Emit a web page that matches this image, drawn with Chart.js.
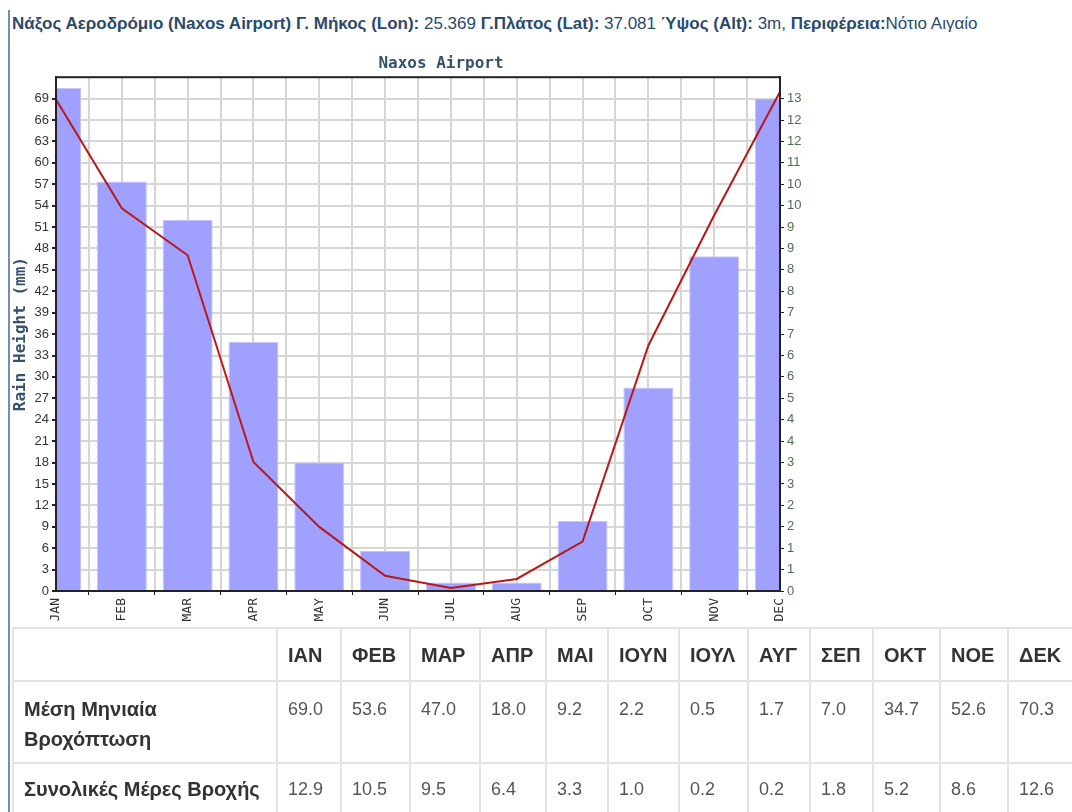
<!DOCTYPE html>
<html>
<head>
<meta charset="utf-8">
<script src="https://cdn.jsdelivr.net/npm/chart.js@4"></script>
<style>
  body { margin: 0; background: #fff; width: 1072px; height: 812px; overflow: hidden; position: relative; font-family: "Liberation Sans", Arial, sans-serif; }
  #rule { position: absolute; left: 8px; top: 10px; width: 2px; height: 802px; background: #7090b0; }
  #header { position: absolute; left: 12px; top: 14px; font-size: 17px; color: #2b4a6b; white-space: nowrap; }
  #header b { font-weight: bold; }
  #chartBox { position: absolute; left: 0; top: 40px; }
  #dataTable { position: absolute; left: 12px; top: 627px; border-collapse: collapse; table-layout: fixed; font-size: 18px; color: #555; }
  #dataTable td, #dataTable th { border: 2px solid #e3e3e3; padding: 0 0 0 10px; text-align: left; vertical-align: top; line-height: 30px; box-sizing: border-box; }
  #dataTable th { font-weight: bold; font-size: 20px; color: #333; height: 53px; vertical-align: middle; }
  #dataTable td.lbl { font-weight: bold; font-size: 20px; color: #333; }
  #dataTable tr.r1 td { height: 82px; padding-top: 12px; }
  #dataTable tr.r2 td { height: 53px; padding-top: 10px; }
</style>
</head>
<body>
<div id="rule"></div>
<div id="header"><b>Νάξος Αεροδρόμιο (Naxos Airport) Γ. Μήκος (Lon):</b> 25.369 <b>Γ.Πλάτος (Lat):</b> 37.081 <b>Ύψος (Alt):</b> 3m, <b>Περιφέρεια:</b>Νότιο Αιγαίο</div>
<div id="chartBox"><canvas id="rainChart" width="882" height="590"></canvas></div>
<table id="dataTable"></table>
<script>
// chart data
const months = ['JAN', 'FEB', 'MAR', 'APR', 'MAY', 'JUN', 'JUL', 'AUG', 'SEP', 'OCT', 'NOV', 'DEC'];
const rainHeight = [70.5, 57.4, 52.0, 34.9, 18.0, 5.6, 1.2, 1.2, 9.8, 28.5, 46.9, 69.0];
const rainDays = [12.65, 9.85, 8.64, 3.32, 1.65, 0.39, 0.08, 0.31, 1.27, 6.32, 9.67, 12.85];
const rightTickLabels = ['0', '1', '1', '2', '2', '3', '3', '4', '4', '5', '6', '6', '7', '7', '8', '8', '9', '9', '10', '10', '11', '12', '12', '13'];
const rightStep = 0.551;
const leftMax = 72;
const leftStep = 3;

// table data
const tableMonths = ['ΙΑΝ', 'ΦΕΒ', 'ΜΑΡ', 'ΑΠΡ', 'ΜΑΙ', 'ΙΟΥΝ', 'ΙΟΥΛ', 'ΑΥΓ', 'ΣΕΠ', 'ΟΚΤ', 'ΝΟΕ', 'ΔΕΚ'];
const tableRain = ['69.0', '53.6', '47.0', '18.0', '9.2', '2.2', '0.5', '1.7', '7.0', '34.7', '52.6', '70.3'];
const tableDays = ['12.9', '10.5', '9.5', '6.4', '3.3', '1.0', '0.2', '0.2', '1.8', '5.2', '8.6', '12.6'];
const colWidths = [264, 64, 69, 70, 66, 62, 71, 69, 62, 63, 67, 68, 70];

// build table
const table = document.getElementById('dataTable');
table.style.width = colWidths.reduce((a, b) => a + b, 0) + 'px';
let html = '<colgroup>' + colWidths.map(w => `<col style="width:${w}px">`).join('') + '</colgroup>';
html += '<tr><th></th>' + tableMonths.map(m => `<th>${m}</th>`).join('') + '</tr>';
html += '<tr class="r1"><td class="lbl">Μέση Μηνιαία<br>Βροχόπτωση</td>' + tableRain.map(v => `<td>${v}</td>`).join('') + '</tr>';
html += '<tr class="r2"><td class="lbl">Συνολικές Μέρες Βροχής</td>' + tableDays.map(v => `<td>${v}</td>`).join('') + '</tr>';
table.innerHTML = html;

const gridColor = '#d6d6d6';
const axisColor = '#222';
const monoFont = "'DejaVu Sans Mono', monospace";

// black frame round the plot area
const framePlugin = {
    id: 'frame',
    afterDatasetsDraw(chart) {
        const a = chart.chartArea;
        const ctx = chart.ctx;
        ctx.save();
        ctx.strokeStyle = axisColor;
        ctx.lineWidth = 2;
        ctx.strokeRect(a.left, a.top, a.right - a.left, a.bottom - a.top);
        ctx.restore();
    }
};

new Chart(document.getElementById('rainChart'), {
    data: {
        labels: months,
        datasets: [{
            type: 'line',
            data: rainDays,
            yAxisID: 'y1',
            xAxisID: 'x',
            borderColor: '#b81818',
            borderWidth: 2,
            pointRadius: 0,
            tension: 0,
            order: 0
        }, {
            type: 'bar',
            data: rainHeight,
            yAxisID: 'y',
            xAxisID: 'x',
            backgroundColor: '#a0a0ff',
            borderColor: '#c4c4ff',
            borderWidth: 1,
            categoryPercentage: 1,
            barPercentage: 0.76,
            clip: 0,
            order: 1
        }]
    },
    options: {
        responsive: false,
        animation: false,
        layout: { padding: 0 },
        plugins: {
            legend: { display: false },
            tooltip: { enabled: false },
            title: {
                display: true,
                text: 'Naxos Airport',
                color: '#36506e',
                font: { family: monoFont, size: 16, weight: 'bold' },
                padding: { top: 14, bottom: 4 }
            }
        },
        scales: {
            x: {
                type: 'category',
                offset: false,
                grid: { drawOnChartArea: false, tickLength: 4, tickColor: axisColor },
                border: { color: axisColor, width: 2 },
                ticks: {
                    color: '#333',
                    font: { family: monoFont, size: 13 },
                    minRotation: 90,
                    maxRotation: 90,
                    autoSkip: false,
                    padding: 3
                },
                afterFit: s => { s.height = 39; }
            },
            x2: {
                type: 'linear',
                position: 'top',
                min: 0,
                max: months.length - 1,
                ticks: { display: false, stepSize: 0.5 },
                grid: { color: gridColor, lineWidth: 2, drawTicks: false },
                border: { display: false },
                afterFit: s => { s.height = 0; }
            },
            y: {
                type: 'linear',
                position: 'left',
                min: 0,
                max: leftMax,
                ticks: { stepSize: leftStep, color: '#333', font: { family: "'Liberation Sans', Arial", size: 13 }, padding: 3, autoSkip: false },
                afterBuildTicks: s => { s.ticks = s.ticks.filter(t => t.value < leftMax); },
                grid: { color: gridColor, lineWidth: 2, tickLength: 4, tickColor: axisColor },
                border: { color: axisColor, width: 2 },
                title: {
                    display: true,
                    text: 'Rain Height (mm)',
                    color: '#36506e',
                    font: { family: monoFont, size: 16, weight: 'bold' },
                    padding: { top: 11, bottom: 0 }
                },
                afterFit: s => { s.width = 56; }
            },
            y1: {
                type: 'linear',
                position: 'right',
                min: 0,
                max: rightStep * (rightTickLabels.length),
                afterBuildTicks: s => { s.ticks = rightTickLabels.map((l, i) => ({ value: i * rightStep })); },
                ticks: {
                    color: '#4f6f4f',
                    font: { family: "'Liberation Sans', Arial", size: 13 },
                    padding: 3,
                    autoSkip: false,
                    callback: (v, i) => rightTickLabels[i]
                },
                grid: { drawOnChartArea: false, tickLength: 4, tickColor: axisColor },
                border: { color: axisColor, width: 2 },
                afterFit: s => { s.width = 102; }
            }
        }
    },
    plugins: [framePlugin]
});
</script>
</body>
</html>
